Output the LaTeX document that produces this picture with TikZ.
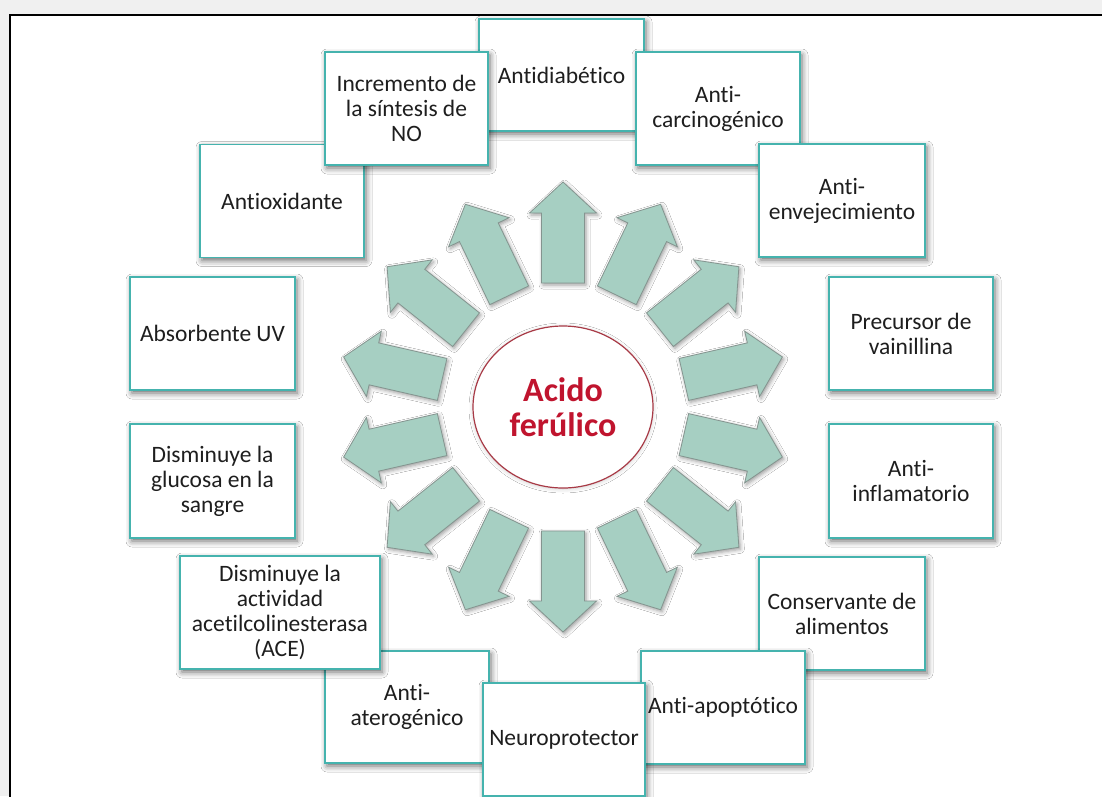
\documentclass[tikz,border=0pt]{standalone}
\usepackage{fontspec}
\setmainfont{Carlito}[Ligatures=NoCommon]
\usetikzlibrary{shapes.geometric,shadows.blur}

\definecolor{pagegray}{HTML}{F0F0F0}
\definecolor{boxline}{HTML}{45B3AE}
\definecolor{boxtext}{HTML}{1E1E1E}
\definecolor{arrowfill}{HTML}{A6CFC2}
\definecolor{arrowline}{HTML}{84948F}
\definecolor{acidline}{HTML}{A83A46}
\definecolor{acidtext}{HTML}{C0142E}

\tikzset{
  effectbox/.style={draw=boxline, line width=1.1pt, fill=white,
    text=boxtext, align=center, inner sep=2pt,
    font=\fontsize{23.5}{25}\selectfont,
    minimum width=164pt, minimum height=113pt,
    blur shadow={shadow xshift=2pt, shadow yshift=-3pt,
      shadow blur radius=6pt, shadow opacity=60}},
  radialarrow/.style={draw=arrowline, line width=0.8pt, fill=arrowfill,
    line join=miter,
    blur shadow={shadow xshift=1.5pt, shadow yshift=-2pt,
      shadow blur radius=4pt, shadow opacity=40}},
  acidnode/.style={ellipse, draw=acidline, line width=1.2pt, fill=white,
    minimum width=180pt, minimum height=162pt, inner sep=0pt,
    align=center, text=acidtext,
    font=\bfseries\fontsize{34}{35}\selectfont,
    blur shadow={shadow xshift=0pt, shadow yshift=-1pt,
      shadow blur radius=4pt, shadow opacity=20}}
}

\begin{document}
\begin{tikzpicture}[x=1pt, y=-1pt]
  \useasboundingbox (0,0) rectangle (1102,796);
  % page background and framed panel
  \fill[pagegray] (0,0) rectangle (1102,796);
  \draw[line width=1.6pt, fill=white] (10,15) rectangle (1115,815);

  % central compound
  \node[acidnode] (acid) at (563,407) {Acido\\ferúlico};

  % fourteen arrows radiating from the centre
  \foreach \k in {0,...,13}{
    \pgfmathsetmacro{\ang}{90+\k*360/14}
    \begin{scope}[shift={(acid.center)}, rotate=\ang]
      \draw[radialarrow] (124,-21.5) -- (194,-21.5) -- (194,-33.5)
        -- (225,0) -- (194,33.5) -- (194,21.5) -- (124,21.5) -- cycle;
    \end{scope}
  }

  % effect boxes, back to front
  \node[effectbox] (antiox)   at (282,201)     {Antioxidante};
  \node[effectbox, minimum width=165pt, minimum height=112pt]
                   (antidiab) at (561.5,75)    {Antidiabético};
  \node[effectbox, minimum width=163pt]
                   (no)       at (406.5,108.5) {Incremento de\\la síntesis de\\NO};
  \node[effectbox] (carcino)  at (718,108.5)   {Anti-\\carcinogénico};
  \node[effectbox, minimum width=166pt]
                   (enveje)   at (842,200.5)   {Anti-\\envejecimiento};
  \node[effectbox] (vainill)  at (911,333.5)   {Precursor de\\vainillina};
  \node[effectbox, minimum width=165pt]
                   (uv)       at (212.5,333.5) {Absorbente UV};
  \node[effectbox, minimum width=165pt, minimum height=114pt]
                   (glucosa)  at (212.5,481)   {Disminuye la\\glucosa en la\\sangre};
  \node[effectbox, minimum height=114pt]
                   (inflam)   at (911,481)     {Anti-\\inflamatorio};
  \node[effectbox, minimum width=164pt, minimum height=112pt]
                   (atero)    at (407,707)     {Anti-\\aterogénico};
  \node[effectbox, minimum width=200pt]
                   (ace)      at (280,612.5)   {Disminuye la\\actividad\\acetilcolinesterasa\\(ACE)};
  \node[effectbox, minimum width=166pt]
                   (conserv)  at (842,613.5)   {Conservante de\\alimentos};
  \node[effectbox] (apopt)    at (723,707.5)   {Anti-apoptótico};
  \node[effectbox, minimum width=162pt]
                   (neuro)    at (564,739.5)   {Neuroprotector};
\end{tikzpicture}
\end{document}
